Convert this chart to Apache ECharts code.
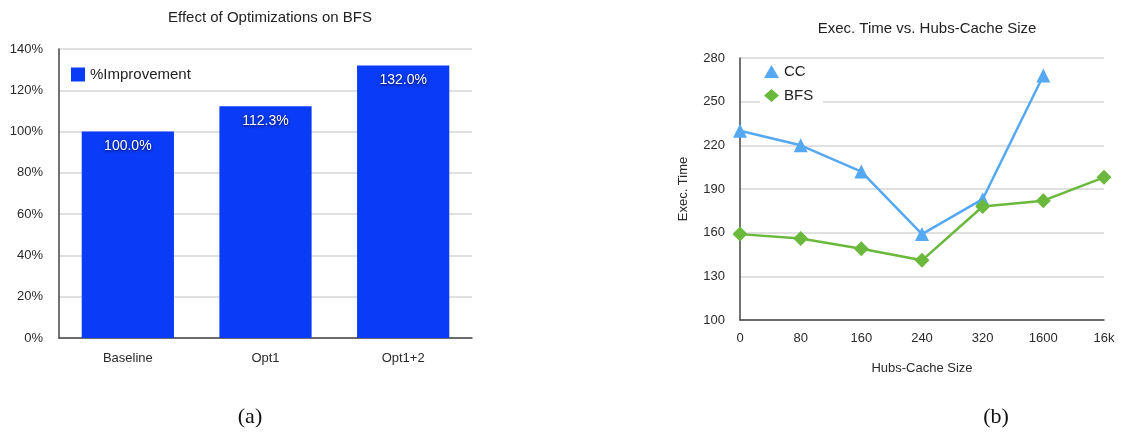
<!DOCTYPE html>
<html>
  <head>
    <meta charset="UTF-8" />
    <script src="https://cdn.jsdelivr.net/npm/echarts@6/dist/echarts.min.js"></script>
    <style>
      body { margin: 0; background: #fff; }
    </style>
  </head>
  <body>
    <div id="main" style="width: 1122px; height: 435px"></div>
    <script>
      // (a) bar chart
      const optNames = ["Baseline", "Opt1", "Opt1+2"];
      const improvement = [100.0, 112.3, 132.0];
      const pctTicks = [0, 20, 40, 60, 80, 100, 120, 140];

      // (b) line chart
      const cacheSizes = ["0", "80", "160", "240", "320", "1600", "16k"];
      const ccTime = [230, 220, 202, 159, 183, 268, null];
      const bfsTime = [159, 156, 149, 141, 178, 182, 198];

      const font = "Liberation Sans";
      const txt = "#2a2a2a";

      const chart = echarts.init(document.getElementById("main"));
      chart.setOption({
        animation: false,
        textStyle: { fontFamily: font },
        title: [
          { text: "Effect of Optimizations on BFS", left: 265, top: 5, textAlign: "center",
            textStyle: { fontSize: 15, fontWeight: "normal", color: "#222", fontFamily: font } },
          { text: "Exec. Time vs. Hubs-Cache Size", left: 922, top: 16, textAlign: "center",
            textStyle: { fontSize: 15, fontWeight: "normal", color: "#222", fontFamily: font } },
          { text: "(a)", left: 245, top: 401, textAlign: "center",
            textStyle: { fontSize: 22, fontWeight: "normal", color: "#111", fontFamily: "Liberation Serif" } },
          { text: "(b)", left: 991, top: 401, textAlign: "center",
            textStyle: { fontSize: 22, fontWeight: "normal", color: "#111", fontFamily: "Liberation Serif" } }
        ],
        legend: [
          { data: ["%Improvement"], left: 66, top: 62, icon: "rect", itemWidth: 14, itemHeight: 14,
            textStyle: { fontSize: 15, color: "#222", fontFamily: font } },
          { data: [{ name: "CC", icon: "triangle" }, { name: "BFS", icon: "diamond" }],
            orient: "vertical", left: 760, top: 62, itemWidth: 15, itemHeight: 13, itemGap: 9,
            backgroundColor: "#fff", padding: [2, 10, 2, 4],
            textStyle: { fontSize: 15, color: "#222", fontFamily: font } }
        ],
        grid: [
          { left: 59, right: 650, top: 49, bottom: 97 },
          { left: 740, right: 18, top: 58, bottom: 115 }
        ],
        xAxis: [
          { type: "category", gridIndex: 0, data: optNames,
            axisLine: { lineStyle: { color: "#444", width: 1.5 } }, axisTick: { show: false },
            axisLabel: { fontSize: 13, color: txt, margin: 14 } },
          { type: "category", gridIndex: 1, data: cacheSizes, boundaryGap: false,
            name: "Hubs-Cache Size", nameLocation: "middle", nameGap: 42,
            nameTextStyle: { fontSize: 13, color: txt },
            axisLine: { lineStyle: { color: "#444", width: 1.5 } }, axisTick: { show: false },
            axisLabel: { fontSize: 13, color: txt, margin: 12 } }
        ],
        yAxis: [
          { type: "value", gridIndex: 0, min: pctTicks[0], max: pctTicks[pctTicks.length - 1], interval: 20,
            axisLine: { show: true, lineStyle: { color: "#444", width: 1.5 } }, axisTick: { show: false },
            axisLabel: { fontSize: 13, color: txt, margin: 16, formatter: "{value}%" },
            splitLine: { lineStyle: { color: "#d6d6d6", width: 1.5 } } },
          { type: "value", gridIndex: 1, min: 100, max: 280, interval: 30,
            name: "Exec. Time", nameLocation: "middle", nameGap: 50, nameRotate: 90,
            nameTextStyle: { fontSize: 13, color: txt },
            axisLine: { show: true, lineStyle: { color: "#444", width: 1.5 } }, axisTick: { show: false },
            axisLabel: { fontSize: 13, color: txt, margin: 15 },
            splitLine: { lineStyle: { color: "#d6d6d6", width: 1.5 } } }
        ],
        series: [
          { name: "%Improvement", type: "bar", xAxisIndex: 0, yAxisIndex: 0, data: improvement,
            barWidth: "67%", itemStyle: { color: "#0a3cf8" },
            label: { show: true, position: "insideTop", distance: 8, color: "#fff", fontSize: 14,
              textShadowColor: "rgba(0,0,30,0.9)", textShadowBlur: 3, textShadowOffsetY: 1,
              formatter: (p) => p.value.toFixed(1) + "%" } },
          { name: "CC", type: "line", xAxisIndex: 1, yAxisIndex: 1, data: ccTime,
            symbol: "triangle", symbolSize: 14, lineStyle: { color: "#55a8f2", width: 2.5 },
            itemStyle: { color: "#55a8f2" } },
          { name: "BFS", type: "line", xAxisIndex: 1, yAxisIndex: 1, data: bfsTime,
            symbol: "diamond", symbolSize: 15, lineStyle: { color: "#6ab83c", width: 2.5 },
            itemStyle: { color: "#6ab83c" } }
        ]
      });
    </script>
  </body>
</html>
